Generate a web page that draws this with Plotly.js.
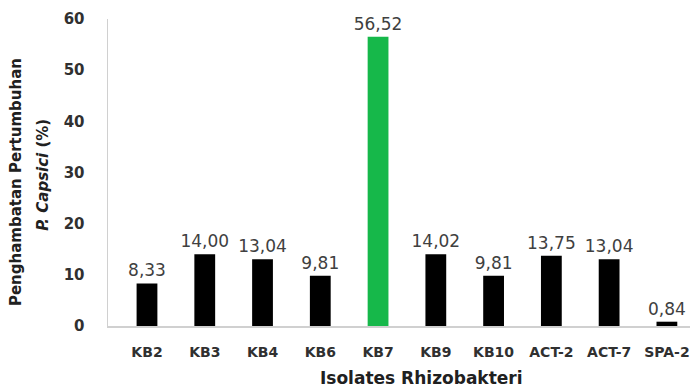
<!DOCTYPE html>
<html><head><meta charset="utf-8">
<script src="https://cdn.plot.ly/plotly-3.0.1.min.js"></script>
<style>html,body{margin:0;padding:0;background:#fff}#chart{width:690px;height:388px}</style>
</head><body><div id="chart"></div>
<script>
const categories = ["KB2","KB3","KB4","KB6","KB7","KB9","KB10","ACT-2","ACT-7","SPA-2"];
const values = [8.33, 14.00, 13.04, 9.81, 56.52, 14.02, 9.81, 13.75, 13.04, 0.84];
const valueLabels = ["8,33","14,00","13,04","9,81","56,52","14,02","9,81","13,75","13,04","0,84"];
const highlight = "KB7";
const yTitleLine1 = "Penghambatan Pertumbuhan";
const yTitleLine2 = "<i>P. Capsici</i> (%)";
const xTitle = "Isolates Rhizobakteri";

const colors = categories.map(c => c === highlight ? "#16b84a" : "#000000");

const trace = {
  type: "bar",
  x: categories,
  y: values,
  text: valueLabels,
  textposition: "outside",
  constraintext: "none",
  cliponaxis: false,
  textfont: {family: "DejaVu Sans", size: 17, color: "#404040"},
  marker: {color: colors},
  width: 0.36,
  hoverinfo: "none"
};

const titleFont = {family: "DejaVu Sans", size: 15, color: "#202020", weight: "bold"};

const layout = {
  width: 690, height: 388,
  margin: {l: 108, r: 0, t: 19, b: 62},
  paper_bgcolor: "#fff", plot_bgcolor: "#fff",
  showlegend: false,
  xaxis: {
    range: [-0.675, 9.4],
    showline: true, linecolor: "#d0d0d0", linewidth: 1.5,
    ticks: "", showgrid: false,
    ticklabelstandoff: 13,
    tickfont: {family: "DejaVu Sans", size: 14, color: "#303030", weight: "bold"}
  },
  yaxis: {
    range: [0, 60], dtick: 10,
    showline: true, linecolor: "#d0d0d0", linewidth: 1.5,
    ticks: "", showgrid: false, zeroline: false,
    ticklabelstandoff: 19,
    tickfont: {family: "DejaVu Sans", size: 15, color: "#303030", weight: "bold"}
  },
  annotations: [
    {text: yTitleLine1, textangle: -90, xref: "paper", yref: "paper", x: -0.158, y: 0.469,
     xanchor: "center", yanchor: "middle", showarrow: false, font: titleFont},
    {text: yTitleLine2, textangle: -90, xref: "paper", yref: "paper", x: -0.112, y: 0.492,
     xanchor: "center", yanchor: "middle", showarrow: false, font: titleFont},
    {text: xTitle, xref: "paper", yref: "paper", x: 0.538, y: -0.169,
     xanchor: "center", yanchor: "middle", showarrow: false,
     font: {family: "DejaVu Sans", size: 17, color: "#202020", weight: "bold"}}
  ]
};

Plotly.newPlot("chart", [trace], layout, {staticPlot: true, displayModeBar: false});
</script>
</body></html>
